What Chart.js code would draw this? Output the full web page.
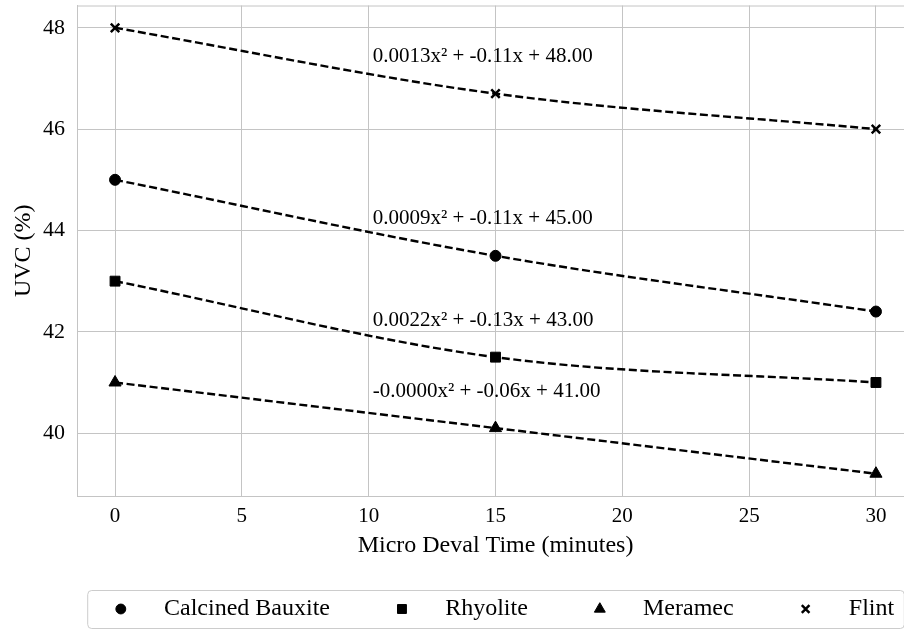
<!DOCTYPE html>
<html><head><meta charset="utf-8">
<script src="https://cdn.jsdelivr.net/npm/chart.js@4.4.1/dist/chart.umd.min.js"></script>
<style>
html,body{margin:0;padding:0;background:#fff;}
#wrap{width:904px;height:630px;overflow:hidden;position:relative;background:#fff;}
#box{width:930px;height:633px;position:absolute;left:0;top:-3px;}
</style></head><body>
<div id="wrap"><div id="box"><canvas id="c"></canvas></div></div>
<script>
// ---- data ----
const times = [0, 15, 30];
const seriesNames = ['Calcined Bauxite', 'Rhyolite', 'Meramec', 'Flint'];
const bauxite = [45.0, 43.5, 42.4];
const rhyolite = [43.0, 41.5, 41.0];
const meramec = [41.0, 40.1, 39.2];
const flint = [48.0, 46.7, 46.0];
const equations = [
  '0.0009x\u00B2 + -0.11x + 45.00',
  '0.0022x\u00B2 + -0.13x + 43.00',
  '-0.0000x\u00B2 + -0.06x + 41.00',
  '0.0013x\u00B2 + -0.11x + 48.00'
];
const xTicks = [0, 5, 10, 15, 20, 25, 30];
const yTicks = [40, 42, 44, 46, 48];

// ---- styles ----
const SERIF = '"Liberation Serif", "Times New Roman", serif';
const GRID = '#c4c4c4';
const markerStyles = ['circle', 'rect', 'triangle', 'crossRot'];
const markerRadius = [5.5, 7, 7, 6];
const allSeries = [bauxite, rhyolite, meramec, flint];

const datasets = allSeries.map((vals, i) => ({
  label: seriesNames[i],
  data: times.map((t, j) => ({x: t, y: vals[j]})),
  borderColor: '#000',
  backgroundColor: '#000',
  borderWidth: 2.4,
  borderDash: [8, 3.6],
  cubicInterpolationMode: 'monotone',
  pointStyle: markerStyles[i],
  pointRadius: markerRadius[i],
  pointBorderWidth: markerStyles[i] === 'crossRot' ? 2.5 : 1,
  pointBackgroundColor: '#000',
  pointBorderColor: '#000',
  fill: false
}));

const framePlugin = {
  id: 'frame',
  beforeDatasetsDraw(chart) {
    const {ctx, chartArea: a} = chart;
    ctx.save();
    ctx.strokeStyle = GRID; ctx.lineWidth = 1;
    ctx.beginPath();
    ctx.moveTo(a.left, a.top + 0.5); ctx.lineTo(a.right, a.top + 0.5);
    ctx.moveTo(a.right - 0.5, a.top); ctx.lineTo(a.right - 0.5, a.bottom);
    ctx.stroke();
    ctx.restore();
  },
  afterDatasetsDraw(chart) {
    const {ctx} = chart;
    const xs = chart.scales.x, ys = chart.scales.y;
    ctx.save();
    ctx.font = '21px ' + SERIF;
    ctx.fillStyle = '#000';
    ctx.textAlign = 'left';
    ctx.textBaseline = 'middle';
    allSeries.forEach((vals, i) => {
      const px = xs.getPixelForValue(10) + 4;
      const py = ys.getPixelForValue(vals[1]) - 37;
      ctx.fillText(equations[i], px, py);
    });
    ctx.restore();
  },
  afterDraw(chart) {
    const {ctx, chartArea: a} = chart;
    ctx.save();
    ctx.font = '24px ' + SERIF;
    const handle = 48, hpad = 19.2, colsp = 48, bpad = 9.6;
    const widths = seriesNames.map(n => ctx.measureText(n).width);
    let total = 2 * bpad + colsp * (seriesNames.length - 1);
    widths.forEach(w => total += handle + hpad + w);
    const cx = (a.left + a.right) / 2;
    const left = cx - total / 2;
    const h = 38;
    const top = chart.height - 40;
    ctx.strokeStyle = '#cccccc'; ctx.lineWidth = 1;
    ctx.beginPath();
    ctx.roundRect(left + 0.5, top + 0.5, total, h, 4);
    ctx.stroke();
    let x = left + bpad;
    const cy = top + h / 2;
    seriesNames.forEach((n, i) => {
      ctx.save();
      ctx.fillStyle = '#000'; ctx.strokeStyle = '#000';
      ctx.lineWidth = markerStyles[i] === 'crossRot' ? 2.5 : 1;
      Chart.helpers.drawPoint(ctx, {
        pointStyle: markerStyles[i], radius: markerRadius[i] * 0.9, rotation: 0,
        borderWidth: markerStyles[i] === 'crossRot' ? 2.5 : 1
      }, x + handle / 2, cy);
      ctx.restore();
      ctx.fillStyle = '#000';
      ctx.textAlign = 'left'; ctx.textBaseline = 'middle';
      ctx.fillText(n, x + handle + hpad, cy);
      x += handle + hpad + widths[i] + colsp;
    });
    ctx.restore();
  }
};

new Chart(document.getElementById('c'), {
  type: 'line',
  data: {datasets},
  options: {
    responsive: true,
    maintainAspectRatio: false,
    animation: false,
    layout: {padding: {top: 2, right: 16, bottom: 0, left: 0}},
    plugins: {legend: {display: false}, tooltip: {enabled: false}},
    scales: {
      x: {
        type: 'linear', min: -1.5, max: 31.5,
        afterBuildTicks: s => { s.ticks = xTicks.map(v => ({value: v})); },
        afterFit: s => { s.height = 134; s.paddingLeft = 0; s.paddingRight = 0; },
        grid: {color: GRID, lineWidth: 1, drawTicks: false},
        border: {color: GRID, width: 1},
        ticks: {padding: 8, color: '#000', font: {family: SERIF, size: 21}},
        title: {display: true, text: 'Micro Deval Time (minutes)', color: '#000',
                font: {family: SERIF, size: 24}, padding: {top: 0, bottom: 70}}
      },
      y: {
        type: 'linear', min: 38.76, max: 48.44,
        afterBuildTicks: s => { s.ticks = yTicks.map(v => ({value: v})); },
        afterFit: s => { s.width = 77; s.paddingTop = 0; s.paddingBottom = 0; },
        grid: {color: GRID, lineWidth: 1, drawTicks: false},
        border: {color: GRID, width: 1},
        ticks: {padding: 12, color: '#000', font: {family: SERIF, size: 22}},
        title: {display: true, text: 'UVC (%)', color: '#000',
                font: {family: SERIF, size: 24}, padding: {top: 9, bottom: 0}}
      }
    }
  },
  plugins: [framePlugin]
});
</script>
</body></html>
